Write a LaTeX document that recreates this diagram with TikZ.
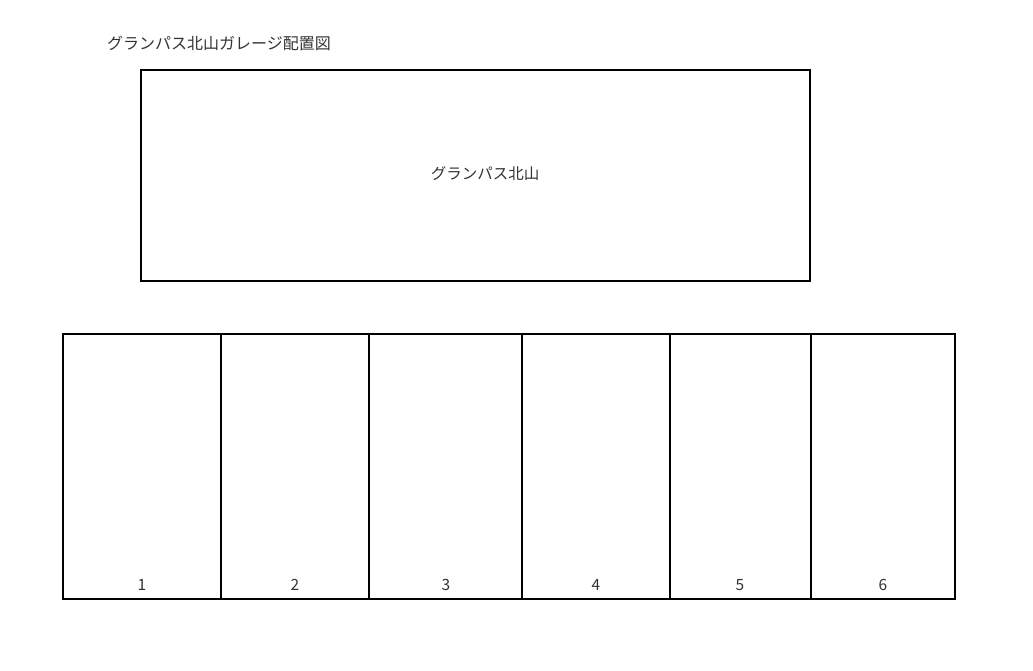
\documentclass[tikz,border=0pt]{standalone}
\usepackage{fontspec}
\setmainfont{Noto Sans CJK JP}
\begin{document}
\begin{tikzpicture}[x=1pt,y=-1pt,
  box/.style={draw=black,line width=1.2pt},
  lbl/.style={font=\fontsize{15.5}{18}\selectfont,text=black!80,inner sep=0pt}]
\useasboundingbox (0,0) rectangle (1033,671);
\node[lbl,anchor=west,font=\fontsize{16}{19}\selectfont] (title) at (107,43) {グランパス北山ガレージ配置図};
\draw[box] (141,70) rectangle (810,281);
\node[lbl] (bldg) at (485,174) {グランパス北山};
\draw[box] (63,334) rectangle (955,599);
\foreach \x in {221,369,522,670,811}{
  \draw[box] (\x,334) -- (\x,599);
}
\foreach \x/\n in {142/1,295/2,446/3,596/4,740/5,883/6}{
  \node[lbl] (p\n) at (\x,585) {\n};
}
\end{tikzpicture}
\end{document}
